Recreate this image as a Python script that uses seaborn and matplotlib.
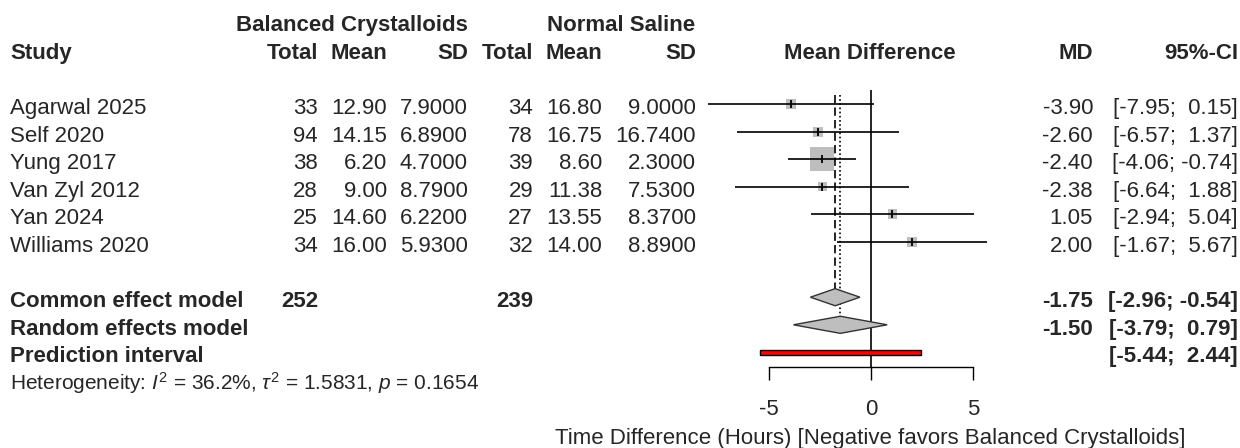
import numpy as np
import pandas as pd
import matplotlib
matplotlib.use("Agg")
import matplotlib.pyplot as plt
import matplotlib.transforms as mtransforms
from matplotlib.patches import Polygon, Rectangle
import seaborn as sns

# ---- study data -------------------------------------------------------------
studies = ["Agarwal 2025", "Self 2020", "Yung 2017", "Van Zyl 2012", "Yan 2024", "Williams 2020"]
bc_total = [33, 94, 38, 28, 25, 34]
bc_mean = [12.90, 14.15, 6.20, 9.00, 14.60, 16.00]
bc_sd = [7.9000, 6.8900, 4.7000, 8.7900, 6.2200, 5.9300]
ns_total = [34, 78, 39, 29, 27, 32]
ns_mean = [16.80, 16.75, 8.60, 11.38, 13.55, 14.00]
ns_sd = [9.0000, 16.7400, 2.3000, 7.5300, 8.3700, 8.8900]
md = [-3.90, -2.60, -2.40, -2.38, 1.05, 2.00]
ci_low = [-7.95, -6.57, -4.06, -6.64, -2.94, -1.67]
ci_high = [0.15, 1.37, -0.74, 1.88, 5.04, 5.67]

# ---- pooled estimates -------------------------------------------------------
common_md, common_low, common_high = -1.75, -2.96, -0.54
random_md, random_low, random_high = -1.50, -3.79, 0.79
pred_low, pred_high = -5.44, 2.44
total_bc, total_ns = 252, 239
het_i2, het_tau2, het_p = "36.2%", "1.5831", "0.1654"

x_ticks = [-5, 0, 5]
x_label = "Time Difference (Hours) [Negative favors Balanced Crystalloids]"

# ---- style ------------------------------------------------------------------
sns.set_style("white")
plt.rcParams["font.family"] = ["Liberation Sans", "DejaVu Sans"]
plt.rcParams["mathtext.fontset"] = "custom"
plt.rcParams["mathtext.rm"] = "Liberation Sans"
plt.rcParams["mathtext.it"] = "Liberation Sans:italic"
plt.rcParams["axes.unicode_minus"] = False

W, H = 1240, 448
FS = 16
SQ_COL = "#bebebe"
LW = 1.2

fig = plt.figure(figsize=(W / 100, H / 100), dpi=100)
fig.patch.set_facecolor("white")

# forest panel: x in mean-difference units, y in row units (row 0 = first study)
x_zero_px, px_per_unit = 871.0, 20.47
row0_px, row_px = 104.0, 27.6
ax_left, ax_right, ax_bottom = 700.0, 1000.0, 367.0
ax = fig.add_axes([ax_left / W, (H - ax_bottom) / H, (ax_right - ax_left) / W, ax_bottom / H])
ax.set_xlim((ax_left - x_zero_px) / px_per_unit, (ax_right - x_zero_px) / px_per_unit)
ax.set_ylim((ax_bottom - row0_px) / row_px, -row0_px / row_px)
ax.patch.set_alpha(0)

trans = mtransforms.blended_transform_factory(fig.transFigure, ax.transData)
BASE = 10.0 / row_px


def put(px, row, s, ha="right", bold=False, size=FS):
    ax.text(px / W, row + BASE, s, transform=trans, ha=ha, va="baseline",
            fontweight="bold" if bold else "normal", fontsize=size, clip_on=False)


n = len(studies)
rows = np.arange(n)
row_common, row_random, row_pred, row_het = n + 1, n + 2, n + 3, n + 4

# ---- header -----------------------------------------------------------------
put(351.5, -3, "Balanced Crystalloids", ha="center", bold=True)
put(621.5, -3, "Normal Saline", ha="center", bold=True)
put(10, -2, "Study", ha="left", bold=True)
for px, s in [(318, "Total"), (387, "Mean"), (468, "SD"), (533, "Total"),
              (602, "Mean"), (696, "SD"), (1093, "MD"), (1238, "95%-CI")]:
    put(px, -2, s, bold=True)
put(870, -2, "Mean Difference", ha="center", bold=True)

# ---- study rows -------------------------------------------------------------
for i in range(n):
    put(10, i, studies[i], ha="left")
    put(318, i, f"{bc_total[i]}")
    put(387, i, f"{bc_mean[i]:.2f}")
    put(468, i, f"{bc_sd[i]:.4f}")
    put(533, i, f"{ns_total[i]}")
    put(602, i, f"{ns_mean[i]:.2f}")
    put(696, i, f"{ns_sd[i]:.4f}")
    put(1093, i, f"{md[i]:.2f}")
    put(1238, i, f"[{ci_low[i]:5.2f}; {ci_high[i]:5.2f}]")

# ---- pooled rows ------------------------------------------------------------
put(10, row_common, "Common effect model", ha="left", bold=True)
put(318, row_common, f"{total_bc}", bold=True)
put(533, row_common, f"{total_ns}", bold=True)
put(1093, row_common, f"{common_md:.2f}", bold=True)
put(1238, row_common, f"[{common_low:5.2f}; {common_high:5.2f}]", bold=True)
put(10, row_random, "Random effects model", ha="left", bold=True)
put(1093, row_random, f"{random_md:.2f}", bold=True)
put(1238, row_random, f"[{random_low:5.2f}; {random_high:5.2f}]", bold=True)
put(10, row_pred, "Prediction interval", ha="left", bold=True)
put(1238, row_pred, f"[{pred_low:5.2f}; {pred_high:5.2f}]", bold=True)
put(10, row_het, r"Heterogeneity: $\mathit{I}^2$ = " + het_i2 + r", $\tau^2$ = " + het_tau2
    + r", $\mathit{p}$ = " + het_p, ha="left", size=15)

# ---- reference lines --------------------------------------------------------
top_row = -0.5
d_h = 0.31
ax.vlines(0, top_row, ax.get_ylim()[0], color="black", lw=LW, zorder=1)
ax.vlines(common_md, top_row + 0.17, row_common - d_h, color="black", lw=LW,
          linestyles=(0, (5, 2.5)), zorder=1)
ax.vlines(random_md, top_row + 0.17, row_random - d_h, color="black", lw=LW,
          linestyles=(0, (1, 1.5)), zorder=1)

# ---- study estimates --------------------------------------------------------
se = (np.array(ci_high) - np.array(ci_low)) / (2 * 1.959964)
weight = 1.0 / se ** 2
side_pts = 24.0 * np.sqrt(weight / weight.max()) * 0.72
df = pd.DataFrame({"md": md, "row": rows, "area": side_pts ** 2})
sns.scatterplot(data=df, x="md", y="row", size="area",
                sizes=(df["area"].min(), df["area"].max()), marker="s",
                color=SQ_COL, edgecolor="none", linewidth=0, legend=False,
                ax=ax, zorder=2)
ax.hlines(rows, ci_low, ci_high, color="black", lw=LW, zorder=3)
sns.scatterplot(data=df, x="md", y="row", marker="|", s=28, color="black",
                linewidth=1.3, legend=False, ax=ax, zorder=4)

# ---- pooled diamonds and prediction interval -------------------------------
for est, lo, hi, r in [(common_md, common_low, common_high, row_common),
                       (random_md, random_low, random_high, row_random)]:
    ax.add_patch(Polygon([(lo, r), (est, r - d_h), (hi, r), (est, r + d_h)],
                         closed=True, facecolor=SQ_COL, edgecolor="#333333",
                         lw=1.0, zorder=5))
ax.add_patch(Rectangle((pred_low, row_pred - 0.1), pred_high - pred_low, 0.2,
                       facecolor="red", edgecolor="black", lw=1.0, zorder=5))

# ---- x axis -----------------------------------------------------------------
for side in ["top", "left", "right"]:
    ax.spines[side].set_visible(False)
ax.spines["bottom"].set_bounds(min(x_ticks), max(x_ticks))
ax.spines["bottom"].set_linewidth(1.0)
ax.spines["bottom"].set_color("black")
ax.set_xticks(x_ticks)
ax.set_xticklabels([str(t) for t in x_ticks])
ax.set_yticks([])
ax.set_xlabel("")
ax.set_ylabel("")
ax.tick_params(axis="x", direction="out", length=9.4, width=1.0, color="black",
               labelsize=FS, pad=13.5, bottom=True)
put(870, 11.96, x_label, ha="center")

fig.savefig("out.png", dpi=100, facecolor="white")
